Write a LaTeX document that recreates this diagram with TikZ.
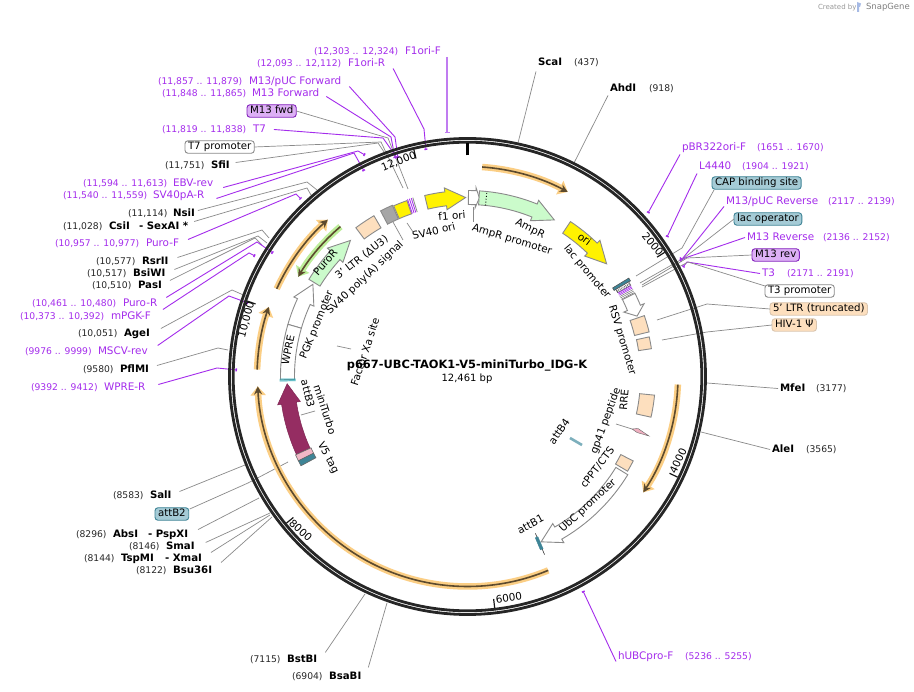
\documentclass[tikz,border=0pt]{standalone}
\usepackage{fontspec}
\setmainfont{DejaVu Sans}
\usetikzlibrary{arrows.meta}
\definecolor{pur}{HTML}{A42CEC}
\definecolor{purl}{HTML}{C07CF0}
\definecolor{ltan}{HTML}{FDDFBE}
\definecolor{halo}{HTML}{FBCE84}
\definecolor{haloG}{HTML}{BDEE9A}
\definecolor{dk}{HTML}{5C4A2E}
\definecolor{lgreen}{HTML}{CBFBCB}
\definecolor{teal1}{HTML}{A5CBD6}
\definecolor{teal2}{HTML}{3E8496}
\definecolor{maroon1}{HTML}{952D62}
\definecolor{purbox}{HTML}{DDB0F5}
\definecolor{gr}{HTML}{8A8A8A}
\tikzset{
 x=1pt,y=-1pt,
 every node/.style={inner sep=0pt,outer sep=2pt,text height=7.5pt,text depth=2pt},
 pn/.style={anchor=west,xshift=-2pt,yshift=-1.5pt,font=\fontsize{10.4}{12}\selectfont,text=pur},
 pr/.style={anchor=west,xshift=-2pt,yshift=-1.5pt,font=\fontsize{9.2}{11}\selectfont,text=pur},
 en/.style={anchor=west,xshift=-2pt,yshift=-1.5pt,font=\fontsize{10.2}{12}\selectfont\bfseries,text=black},
 er/.style={anchor=west,xshift=-2pt,yshift=-1.5pt,font=\fontsize{9.2}{11}\selectfont,text=black!85},
 lab/.style={font=\fontsize{10.4}{12}\selectfont,text=black},
 fbox/.style={anchor=west,yshift=-1pt,font=\fontsize{10.2}{12}\selectfont,rounded corners=3pt,draw=#1,line width=0.9pt,inner xsep=3pt,inner ysep=1.5pt,outer sep=0pt,text=black},
 pl/.style={draw=pur,line width=0.9pt,-{Bar[width=3pt,line width=1.4pt]}},
 gl/.style={draw=gr,line width=0.7pt},
 feat/.style={draw=gr,line width=0.9pt},
 haloA/.style={draw=halo,line width=6.5pt,-{Triangle[length=9pt,width=15pt]}},
 haloB/.style={draw=haloG,line width=6.5pt,-{Triangle[length=9pt,width=15pt]}},
 dkA/.style={draw=dk,line width=1.6pt,-{Stealth[length=8pt,width=8pt]}},
}
\newcommand{\barrow}[7]{\path[#1] ({#4}:{#2}) arc[start angle={#4},end angle={#5},radius={#2}] -- ({#5}:{#2-#7}) -- ({#6}:{(#2+#3)/2}) -- ({#5}:{#3+#7}) -- ({#5}:{#3}) arc[start angle={#5},end angle={#4},radius={#3}] -- cycle;}
\newcommand{\abox}[5]{\path[#1] ({#4}:{#2}) arc[start angle={#4},end angle={#5},radius={#2}] -- ({#5}:{#3}) arc[start angle={#5},end angle={#4},radius={#3}] -- cycle;}
\newcommand{\halo}[4]{\path[#1] ({#3}:{#2}) arc[start angle={#3},end angle={#4},radius={#2}];\path[dkA] ({#3}:{#2}) arc[start angle={#3},end angle={#4},radius={#2}];}
\begin{document}
\begin{tikzpicture}
\useasboundingbox (0,0) rectangle (914,692);
\fill[white] (0,0) rectangle (914,692);
% --- labels
\node[pr] (rF1F) at (314,50) {(12,303 .. 12,324)};
\node[pn] (F1F) at (405,50) {F1ori-F};
\node[pr] (rF1R) at (257,62) {(12,093 .. 12,112)};
\node[pn] (F1R) at (348,62) {F1ori-R};
\node[pr] (rMpF) at (158,80) {(11,857 .. 11,879)};
\node[pn] (MpF) at (249,80) {M13/pUC Forward};
\node[pr] (rMF) at (162,92) {(11,848 .. 11,865)};
\node[pn] (MF) at (252,92) {M13 Forward};
\node[fbox=pur!80!black,fill=purbox] (Mfwd) at (247,110) {M13 fwd};
\node[pr] (rT7) at (162,128) {(11,819 .. 11,838)};
\node[pn] (T7) at (253,128) {T7};
\node[fbox=gr,fill=white] (T7p) at (185,146) {T7 promoter};
\node[er] (rSfi) at (165,164) {(11,751)};
\node[en] (Sfi) at (211,164) {SfiI};
\node[pr] (rEBV) at (83,182) {(11,594 .. 11,613)};
\node[pn] (EBV) at (173,182) {EBV-rev};
\node[pr] (rSVR) at (63,194) {(11,540 .. 11,559)};
\node[pn] (SVR) at (153,194) {SV40pA-R};
\node[er] (rNsi) at (128,212) {(11,114)};
\node[en] (Nsi) at (173,212) {NsiI};
\node[er] (rCsi) at (63,225) {(11,028)};
\node[en] (Csi) at (109,225) {CsiI};
\node[en] (Sex) at (139,225) {- SexAI *};
\node[pr] (rPuF) at (55,242) {(10,957 .. 10,977)};
\node[pn] (PuF) at (146,242) {Puro-F};
\node[er] (rRsr) at (96,260) {(10,577)};
\node[en] (Rsr) at (142,260) {RsrII};
\node[er] (rBsi) at (87,272) {(10,517)};
\node[en] (Bsi) at (133,272) {BsiWI};
\node[er] (rPas) at (92,284) {(10,510)};
\node[en] (Pas) at (138,284) {PasI};
\node[pr] (rPuR) at (32,302) {(10,461 .. 10,480)};
\node[pn] (PuR) at (123,302) {Puro-R};
\node[pr] (rmPG) at (20,315) {(10,373 .. 10,392)};
\node[pn] (mPG) at (111,315) {mPGK-F};
\node[er] (rAge) at (78,332) {(10,051)};
\node[en] (Age) at (124,332) {AgeI};
\node[pr] (rMSC) at (25,350) {(9976 .. 9999)};
\node[pn] (MSC) at (98,350) {MSCV-rev};
\node[er] (rPfl) at (83,368) {(9580)};
\node[en] (Pfl) at (120,368) {PflMI};
\node[pr] (rWPR) at (31,386) {(9392 .. 9412)};
\node[pn] (WPR) at (104,386) {WPRE-R};
\node[er] (rSal) at (113,494) {(8583)};
\node[en] (Sal) at (150,494) {SalI};
\node[fbox=teal2,fill=teal1] (aB2) at (155,513) {attB2};
\node[er] (rAbs) at (76,533) {(8296)};
\node[en] (Abs) at (113,533) {AbsI};
\node[en] (Psp) at (148,533) {- PspXI};
\node[er] (rSma) at (129,545) {(8146)};
\node[en] (Sma) at (166,545) {SmaI};
\node[er] (rTsp) at (84,557) {(8144)};
\node[en] (Tsp) at (121,557) {TspMI};
\node[en] (Xma) at (165,557) {- XmaI};
\node[er] (rBsu) at (136,569) {(8122)};
\node[en] (Bsu) at (173,569) {Bsu36I};
\node[er] (rBst) at (250,658) {(7115)};
\node[en] (Bst) at (287,658) {BstBI};
\node[er] (rBsa) at (292,675) {(6904)};
\node[en] (Bsa) at (329,675) {BsaBI};
\node[en] (Sca) at (538,61) {ScaI};
\node[er] (rSca) at (574,61) {(437)};
\node[en] (Ahd) at (610,87) {AhdI};
\node[er] (rAhd) at (649,87) {(918)};
\node[pn] (pBR) at (682,146) {pBR322ori-F};
\node[pr] (rpBR) at (757,146) {(1651 .. 1670)};
\node[pn] (L44) at (699,165) {L4440};
\node[pr] (rL44) at (742,165) {(1904 .. 1921)};
\node[fbox=teal2,fill=teal1] (CAP) at (712,182) {CAP binding site};
\node[pn] (MpR) at (726,200) {M13/pUC Reverse};
\node[pr] (rMpR) at (828,200) {(2117 .. 2139)};
\node[fbox=teal2,fill=teal1] (lacO) at (734,218) {lac operator};
\node[pn] (MR) at (747,236) {M13 Reverse};
\node[pr] (rMR) at (823,236) {(2136 .. 2152)};
\node[fbox=pur!80!black,fill=purbox] (Mrev) at (752,254) {M13 rev};
\node[pn] (T3) at (762,272) {T3};
\node[pr] (rT3) at (787,272) {(2171 .. 2191)};
\node[fbox=gr,fill=white] (T3p) at (765,290) {T3 promoter};
\node[fbox=ltan!70!gr,fill=ltan] (LTR5) at (770,308) {5' LTR (truncated)};
\node[fbox=ltan!70!gr,fill=ltan] (HIV) at (772,324) {HIV-1 Ψ};
\node[en] (Mfe) at (780,387) {MfeI};
\node[er] (rMfe) at (816,387) {(3177)};
\node[en] (Ale) at (772,448) {AleI};
\node[er] (rAle) at (806,448) {(3565)};
\node[pn] (hUB) at (618,655) {hUBCpro-F};
\node[pr] (rhUB) at (685,655) {(5236 .. 5255)};
\node[anchor=west,font=\fontsize{7}{8}\selectfont,text=black!40] (crt) at (816,7) {Created by};
\node[anchor=west,font=\fontsize{8.5}{10}\selectfont,text=black!50] (sg) at (864,7) {SnapGene};
\fill[cyan!45!blue!35] (857,2) -- (861,3.5) -- (860,7) -- (859,7) -- (859,12) -- (857,12) -- cycle;
% --- end coordinates
\coordinate (eF1F) at (447,133);
\coordinate (ePur1) at (408,189);
\coordinate (ePur2) at (403,188);
% --- leaders, left and top
\draw[draw=purl,line width=1.4pt,-{Bar[width=5pt,line width=1.4pt]}] (447,57) -- (eF1F);
\draw[pl] ([xshift=6pt,yshift=-5pt]F1R.east) -- (424,129) -- (426,150);
\draw[pl] ([xshift=6pt,yshift=-5pt]MpF.east) -- (395,137) -- (398,158);
\draw[pl] ([xshift=5pt,yshift=-3pt]MF.east) -- (391,137) -- (395,158);
\draw[gl] (Mfwd.east) -- (388,138) -- (ePur1);
\draw[pl] ([xshift=6pt]T7.east) -- (383,138) -- (397,158);
\draw[gl] (T7p.east) -- (381,142) -- (ePur2);
\draw[gl] ([xshift=4pt,yshift=3pt]Sfi.east) -- (378,143) -- (384,152);
\draw[pl] ([xshift=8pt,yshift=-4pt]EBV.east) -- (358,151) -- (365,155);
\draw[pl] ([xshift=10pt,yshift=-3pt]SVR.east) -- (354,153) -- (364,171);
\draw[gl] ([xshift=1pt,yshift=3pt]Nsi.east) -- (307,182) -- (317,190);
\draw[gl] ([xshift=4pt,yshift=5pt]Sex.east) -- (307,188) -- (311,195);
\draw[pl] ([xshift=7pt,yshift=4pt]PuF.east) -- (296,194) -- (301,199);
\draw[gl] ([xshift=7pt,yshift=4pt]Rsr.east) -- (262,230) -- (269,238);
\draw[gl] ([xshift=7pt,yshift=4pt]Bsi.east) -- (258,236) -- (267,243);
\draw[gl] ([xshift=6pt,yshift=5pt]Pas.east) -- (255,238) -- (262,245);
\draw[pl] ([xshift=7pt,yshift=6pt]PuR.east) -- (257,242) -- (273,253);
\draw[pl] ([xshift=10pt,yshift=7pt]mPG.east) -- (249,253) -- (255,256);
\draw[gl] ([xshift=9pt,yshift=5pt]Age.east) -- (232,290) -- (248,297);
\draw[pl] ([xshift=8pt,yshift=6pt]MSC.east) -- (229,296) -- (248,303);
\draw[gl] ([xshift=6pt,yshift=4pt]Pfl.east) -- (218,348) -- (228,350);
\draw[pl] ([xshift=11pt,yshift=3pt]WPR.east) -- (217,368) -- (237,370);
\draw[gl] ([xshift=6pt,yshift=4pt]Sal.east) -- (240,467) -- (245,465);
\draw[gl] ([xshift=1pt,yshift=5pt]aB2.east) -- (248,483) -- (288,462);
\draw[gl] ([xshift=8pt,yshift=5pt]Psp.east) -- (259,498);
\draw[gl] ([xshift=9pt,yshift=4pt]Sma.east) -- (270,513);
\draw[gl] ([xshift=7pt,yshift=6pt]Xma.east) -- (270,515);
\draw[gl] ([xshift=7pt,yshift=8pt]Bsu.east) -- (272,517);
\draw[gl] ([xshift=6pt,yshift=7pt]Bst.east) -- (365,594);
\draw[gl] ([xshift=5pt,yshift=9pt]Bsa.east) -- (387,603);
% --- leaders, right
\draw[gl] ([yshift=-9pt]Sca.west) -- (518,143);
\draw[gl] ([yshift=-7pt]Ahd.west) -- (574,163);
\draw[pl] ([yshift=-7pt]pBR.west) -- (648,213);
\draw[pl] ([yshift=-7pt]L44.west) -- (667,237);
\draw[gl] ([yshift=-7pt,xshift=2pt]CAP.west) -- (682,248) -- (636,276);
\draw[pl] ([yshift=-5pt]MpR.west) -- (683,258) -- (680,259);
\draw[gl] (lacO.west) -- (684,258) -- (640,283);
\draw[pl] (MR.west) -- (685,258) -- (680,261);
\draw[gl] (Mrev.west) -- (687,258) -- (642,285);
\draw[pl] (T3.west) -- (687,262) -- (683,267);
\draw[gl] ([yshift=5pt]T3p.west) -- (688,262) -- (642,287);
\draw[gl] (LTR5.west) -- (707,304) -- (657,320);
\draw[gl] (HIV.west) -- (707,332) -- (662,340);
\draw[gl] (Mfe.west) -- (707,383);
\draw[gl] (Ale.west) -- (701,432);
\draw[pl] ([yshift=-5pt]hUB.west) -- (583,591);
\draw[gl] (337,346) -- (351,349);
\draw[gl] (301,415) -- (315,411);
\draw[gl] (473,207) -- (473,222);
\draw[gl] (407,223) -- (413,232);
\draw[gl] (393,222) -- (403,240);
% --- the ring
\begin{scope}[shift={(467.5,376.5)}]
\draw[line width=2.8pt,black!85] (0,0) circle[radius=238];
\draw[line width=2.8pt,black!85] (0,0) circle[radius=234.3];
\draw[line width=2.4pt,black] (-90:221) -- (-90:233);
\draw[line width=1.2pt,black!90] (-32.2:224) -- (-32.2:233);
\draw[line width=1.2pt,black!90] (25.6:224) -- (25.6:233);
\draw[line width=1.2pt,black!90] (83.3:224) -- (83.3:233);
\draw[line width=1.2pt,black!90] (141:224) -- (141:233);
\draw[line width=1.2pt,black!90] (198.9:224) -- (198.9:233);
\draw[line width=1.2pt,black!90] (256.7:224) -- (256.7:233);
% --- long feature arcs
\halo{haloA}{210}{-86}{-61.5}
\halo{haloA}{210.5}{2.2}{33.4}
\halo{haloA}{210}{67.4}{177.3}
\halo{haloA}{210.5}{181.9}{199.3}
\halo{haloA}{210}{204.7}{228.3}
\halo{haloB}{196.5}{229.7}{210.5}
% --- arrows
\barrow{feat,fill=yellow}{172}{186}{256.7}{263}{269.4}{4}
\barrow{feat,fill=white}{172}{186}{270.3}{272.6}{273.8}{3}
\barrow{feat,fill=lgreen}{172}{186}{273.7}{292}{299}{4}
\draw[black,dotted,line width=0.9pt] (-84:172) -- (-84:186);
\barrow{feat,fill=yellow}{172}{186}{303.6}{314.2}{321}{4}
\barrow{feat,fill=lgreen}{173}{186}{211.5}{222.5}{229.3}{4}
\barrow{feat,fill=white}{173}{187}{196.2}{204.6}{210.8}{4}
\abox{feat,fill=white}{173}{187}{179}{196.2}
\barrow{feat,fill=white}{174}{188}{31.5}{59.9}{66}{4}
\barrow{draw=maroon1!85!black,line width=0.5pt,fill=maroon1}{173}{188}{155.5}{171.5}{177.7}{4}
\abox{draw=black!60,line width=0.6pt,fill=pink!50!purple!45}{172}{189}{153.5}{155.5}
\abox{draw=black!60,line width=0.6pt,fill=teal2}{172}{189}{151.8}{153.5}
% --- boxes
\abox{feat,fill=ltan}{172}{186}{233.1}{239.8}
\abox{feat,fill=black!35}{172}{187}{242.3}{246.3}
\abox{feat,fill=yellow}{172}{186}{246.6}{251}
\foreach \a in {251.3,251.9,252.5}{\draw[pur,line width=0.8pt] (\a:172) -- (\a:187);}
\draw[gr,line width=0.8pt] (253:172) -- (253:187);
\abox{feat,fill=ltan}{172}{187}{-19}{-13.8}
\abox{feat,fill=ltan}{173}{186}{-12.3}{-8.6}
\abox{feat,fill=ltan}{173}{188}{5.7}{12.5}
\abox{feat,fill=ltan}{172}{186}{27}{30.6}
% --- right cluster
\abox{draw=black!70,line width=0.5pt,fill=teal2}{170}{189}{-31.4}{-30.4}
\abox{draw=black!70,line width=0.5pt,fill=white}{172}{187}{-30.4}{-29.2}
\foreach \a in {-29.9,-29.6}{\draw[black!70,densely dotted,line width=0.7pt] (\a:172) -- (\a:187);}
\foreach \a in {-29,-28.6,-28.2}{\draw[pur,line width=0.6pt] (\a:172) -- (\a:187);}
\foreach \a in {-27.7,-27.2,-26.7}{\draw[black!55,line width=0.5pt] (\a:172) -- (\a:187);}
\barrow{feat,fill=white}{173}{187}{-26.4}{-22.4}{-19.6}{4}
% --- attB
\foreach \a in {178.6,178.9,179.2}{\draw[teal2!70!cyan,line width=0.7pt] (\a:172) -- (\a:188);}
\draw[black!80,line width=0.6pt] (66.6:171) -- (66.6:194);
\abox{draw=teal2,line width=0.4pt,fill=teal2}{175}{188}{66.3}{67.2}
\end{scope}
\fill[pink!50!purple!50,draw=black!60,line width=0.4pt] (632,429) -- (638,428.5) -- (649,436) -- (637,432.5) -- cycle;
\draw[teal1!60!teal2,line width=2.6pt] (570,438) -- (582,445);
\draw[gl] (616,424) -- (632,429);
% --- tick numbers
\node[lab,rotate=22] (t12) at (399,162) {12,000};
\node[lab,rotate=-50] (t2) at (652,245) {2000};
\node[lab,rotate=65] (t4) at (679,461) {4000};
\node[lab,rotate=8] (t6) at (509,599) {6000};
\node[lab,rotate=-42] (t8) at (300,531) {8000};
\node[lab,rotate=75] (t10) at (247,320) {10,000};
% --- inner labels
\node[lab,rotate=5] (f1) at (452,217) {f1 ori};
\node[lab,rotate=14] (sv) at (434,232) {SV40 ori};
\node[lab,rotate=-17] (ampP) at (512,240) {AmpR promoter};
\node[lab,rotate=-26] (amp) at (530,229) {AmpR};
\node[lab,rotate=-50] (lacP) at (587,272) {lac promoter};
\node[lab,rotate=-73] (rsv) at (622,340) {RSV promoter};
\node[lab,rotate=38] (ltr3) at (362,258) {3' LTR (ΔU3)};
\node[lab,rotate=43.5] (svp) at (365,278) {SV40 poly(A) signal};
\node[lab,rotate=68] (pgk) at (317,325) {PGK promoter};
\node[lab,rotate=78] (wpre) at (289,350) {WPRE};
\node[lab,rotate=72] (xa) at (366,352) {Factor Xa site};
\node[lab,rotate=-76] (ab3) at (307,394) {attB3};
\node[lab,rotate=-72] (mt) at (324,410) {miniTurbo};
\node[lab,rotate=-62] (v5) at (328,458) {V5 tag};
\node[lab,rotate=55] (ab4) at (560,432) {attB4};
\node[lab,rotate=70] (gp) at (606,421) {gp41 peptide};
\node[lab,rotate=85] (rre) at (625,400) {RRE};
\node[lab,rotate=52] (cppt) at (598,468) {cPPT/CTS};
\node[lab,rotate=43] (ubc) at (588,506) {UbC promoter};
\node[lab,rotate=28] (ab1) at (531,525) {attB1};
\node[lab,rotate=49] (puro) at (326,263) {PuroR};
\node[lab,rotate=-37] (ori) at (584,240) {ori};
% --- centre
\node[font=\fontsize{11.4}{13}\selectfont\bfseries] (title) at (467,366) {p667-UBC-TAOK1-V5-miniTurbo\_IDG-K};
\node[font=\fontsize{10}{12}\selectfont] (bp) at (467,379) {12,461 bp};
\end{tikzpicture}
\end{document}
